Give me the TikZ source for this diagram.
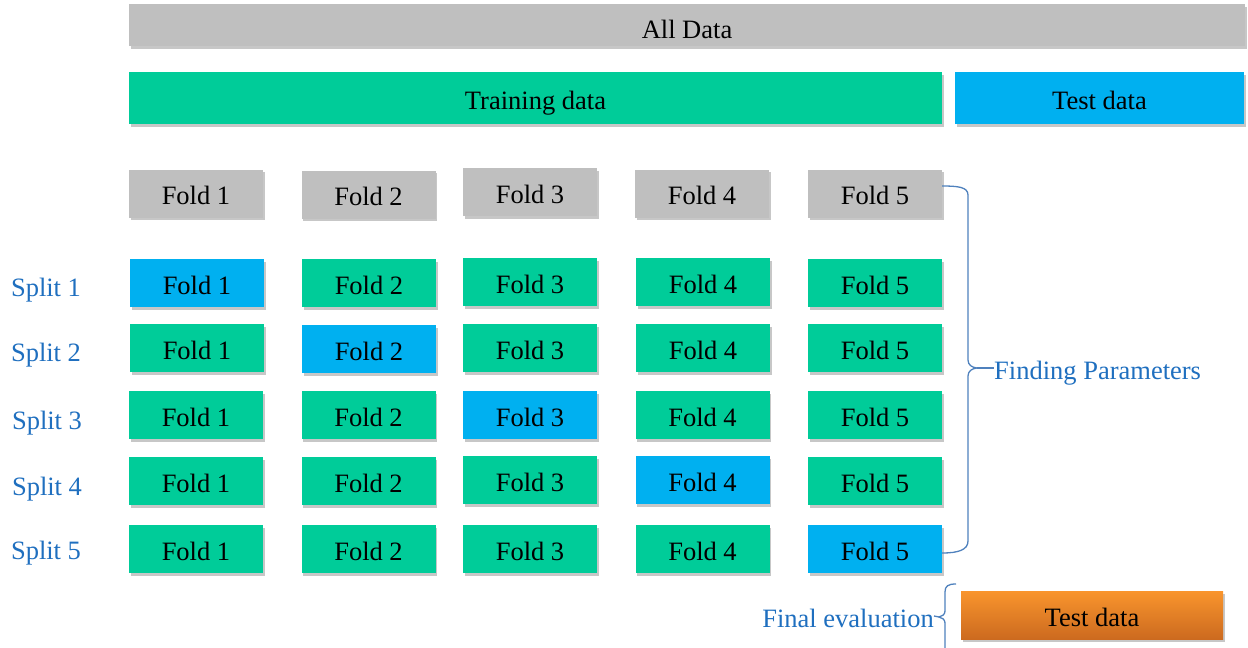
\documentclass[tikz,border=0pt]{standalone}
\usepackage{fontspec}
\setmainfont{Liberation Serif}
\usetikzlibrary{shadows}
\definecolor{cgray}{HTML}{BFBFBF}
\definecolor{cgreen}{HTML}{00CC99}
\definecolor{cblue}{HTML}{00B0F0}
\definecolor{ctext}{HTML}{1F6FBF}
\definecolor{cbrace}{HTML}{4F81BD}
\definecolor{corangetop}{HTML}{F9952D}
\definecolor{corangebot}{HTML}{CC6A1F}
\tikzset{
  bx/.style={inner sep=0pt, outer sep=0pt, font=\fontsize{26.5}{30}\selectfont, text=black,
    text height=22pt, text depth=0pt,
    drop shadow={shadow xshift=1.5pt, shadow yshift=-2.5pt, opacity=0.22, fill=black}},
  fold/.style={bx, minimum width=134pt, minimum height=48pt},
  gfold/.style={fold, fill=cgray},
  tfold/.style={fold, fill=cgreen},
  vfold/.style={fold, fill=cblue},
  lbl/.style={font=\fontsize{26.5}{30}\selectfont, text=ctext, inner sep=0pt,
    text height=22pt, text depth=0pt},
  brace/.style={draw=cbrace, line width=1.3pt, line join=round}
}
\begin{document}
\begin{tikzpicture}[x=1pt,y=-1pt]
\useasboundingbox (0,0) rectangle (1248,648);
% top bars
\node[bx, fill=cgray, minimum width=1116pt, minimum height=42pt] (all) at (687,25) {};
\node[lbl, text=black] (alltxt) at (687,27) {All Data};
\node[bx, fill=cgreen, minimum width=813pt, minimum height=52pt] (train) at (535.5,98) {Training data};
\node[bx, fill=cblue, minimum width=289pt, minimum height=52pt] (test) at (1099.5,98) {Test data};
% header folds
\node[gfold] (h1) at (196,193.5) {Fold 1};
\node[gfold] (h2) at (368.5,194.5) {Fold 2};
\node[gfold] (h3) at (530,192) {Fold 3};
\node[gfold] (h4) at (702,193.5) {Fold 4};
\node[gfold] (h5) at (875,193.5) {Fold 5};
% split 1
\node[vfold] (a1) at (197,283) {Fold 1};
\node[tfold] (a2) at (369,283) {Fold 2};
\node[tfold] (a3) at (530,282) {Fold 3};
\node[tfold] (a4) at (703,282) {Fold 4};
\node[tfold] (a5) at (875,283) {Fold 5};
% split 2
\node[tfold] (b1) at (197,348) {Fold 1};
\node[vfold] (b2) at (369,349) {Fold 2};
\node[tfold] (b3) at (530,348) {Fold 3};
\node[tfold] (b4) at (703,348) {Fold 4};
\node[tfold] (b5) at (875,348) {Fold 5};
% split 3
\node[tfold] (c1) at (196,415) {Fold 1};
\node[tfold] (c2) at (368.5,415) {Fold 2};
\node[vfold] (c3) at (530,415) {Fold 3};
\node[tfold] (c4) at (702.5,415) {Fold 4};
\node[tfold] (c5) at (875,415) {Fold 5};
% split 4
\node[tfold] (d1) at (196,481) {Fold 1};
\node[tfold] (d2) at (368.5,481) {Fold 2};
\node[tfold] (d3) at (530,480) {Fold 3};
\node[vfold] (d4) at (702.5,480) {Fold 4};
\node[tfold] (d5) at (875,481) {Fold 5};
% split 5
\node[tfold] (e1) at (196,549) {Fold 1};
\node[tfold] (e2) at (368.5,549) {Fold 2};
\node[tfold] (e3) at (530,549) {Fold 3};
\node[tfold] (e4) at (702.5,549) {Fold 4};
\node[vfold] (e5) at (875,549) {Fold 5};
% split labels
\node[lbl] (s1) at (46,285) {Split 1};
\node[lbl] (s2) at (46,350) {Split 2};
\node[lbl] (s3) at (47,418) {Split 3};
\node[lbl] (s4) at (47,484) {Split 4};
\node[lbl] (s5) at (46,548) {Split 5};
% finding parameters brace
\node[lbl, anchor=west] (fp) at (994,368) {Finding Parameters};
\coordinate (tip1) at (977,368);
\draw[brace] (h5.east |- 0,186) .. controls (958,186) and (968,187) .. (968,195)
  -- (968,360) .. controls (968,365) and (972,367.5) .. (tip1)
  .. controls (972,368.5) and (968,371) .. (968,376)
  -- (968,541) .. controls (968,550) and (958,553) .. (e5.east |- 0,553);
\draw[brace] (tip1) -- (fp.west);
% final evaluation
\node[bx, minimum width=262pt, minimum height=48pt, top color=corangetop, bottom color=corangebot] (ftest) at (1092,615) {Test data};
\node[lbl, anchor=east] (fe) at (934,616) {Final evaluation};
\coordinate (tip2) at (939,617);
\draw[brace] (956,584) .. controls (948,584) and (945,586) .. (945,592)
  -- (945,611) .. controls (945,614.5) and (942,616.5) .. (tip2)
  .. controls (942,617.5) and (945,619.5) .. (945,623) -- (945,648);
\draw[brace] (tip2) -- (fe.east);
\end{tikzpicture}
\end{document}
